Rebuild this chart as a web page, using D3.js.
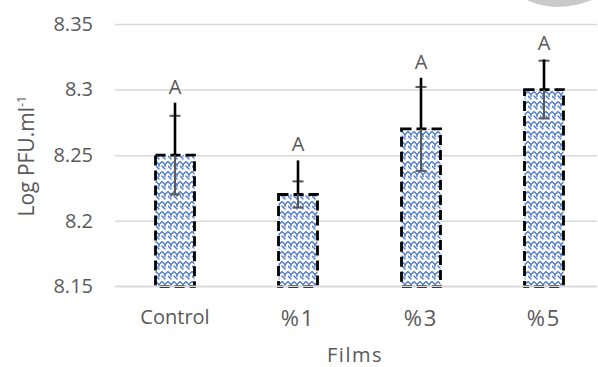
<!DOCTYPE html>
<html><head><meta charset="utf-8">
<script src="https://cdn.jsdelivr.net/npm/d3@7"></script>
<style>html,body{margin:0;padding:0;background:#fff;}svg{display:block;}</style>
</head><body>
<script>
const categories = ["Control", "%1", "%3", "%5"];
const means = [8.25, 8.22, 8.27, 8.30];
const sdErr = [0.03, 0.01, 0.032, 0.022];
const upperErr = [8.29, 8.246, 8.309, 8.323];
const letters = ["A", "A", "A", "A"];
const yTicks = [8.15, 8.2, 8.25, 8.3, 8.35];

const W = 598, H = 367;
const font = "'Open Sans', sans-serif";
const svg = d3.select("body").append("svg").attr("width", W).attr("height", H);

const defs = svg.append("defs");
const pat = defs.append("pattern").attr("id", "weave").attr("patternUnits", "userSpaceOnUse")
  .attr("width", 12).attr("height", 10);
pat.append("rect").attr("width", 12).attr("height", 10).attr("fill", "#fff");
const pStyle = p => p.attr("fill", "none").attr("stroke", "#4a78cc").attr("stroke-width", 1.4)
  .attr("stroke-dasharray", "2,0.9").attr("stroke-linecap", "round");
pStyle(pat.append("path").attr("d", "M0,1.5 L3,4.5 L6,1.5 L9,4.5 L12,1.5"));
pStyle(pat.append("path").attr("d", "M0,6 L3,9 M6,6 L9,9 M3,4.5 L3,7 M9,4.5 L9,7"));

const y = d3.scaleLinear().domain([8.15, 8.35]).range([286.3, 24]);
const x = d3.scaleBand().domain(categories).range([113.5, 605.5]).paddingInner(0.683).paddingOuter(0.3415);

// faint watermark swoosh
svg.append("path").attr("d", "M527,0 Q556,14 592,0 Z").attr("fill", "#bdbdbd").attr("opacity", 0.8);

// gridlines + tick labels
const yAxis = d3.axisLeft(y).tickValues(yTicks).tickSize(-(597 - 115)).tickPadding(22).tickFormat(d => String(d));
const gy = svg.append("g").attr("transform", "translate(115,0)").call(yAxis);
gy.select(".domain").remove();
gy.selectAll(".tick line").attr("stroke", "#d9d9d9").attr("stroke-width", 1.5);
gy.selectAll(".tick text").attr("fill", "#595959").style("font-family", font).style("font-size", "20px");

// bars
const bars = svg.append("g");
categories.forEach((c, i) => {
  bars.append("rect")
    .attr("x", x(c)).attr("y", y(means[i]))
    .attr("width", x.bandwidth()).attr("height", y(8.15) - y(means[i]))
    .attr("fill", "url(#weave)")
    .attr("stroke", "#000").attr("stroke-width", 2.8).attr("stroke-dasharray", "10,5");
});

// bottom axis line on top
svg.append("line").attr("x1", 115).attr("x2", 597).attr("y1", y(8.15)).attr("y2", y(8.15))
  .attr("stroke", "#d9d9d9").attr("stroke-width", 1.5);

// error bars
const eg = svg.append("g");
categories.forEach((c, i) => {
  const cx = x(c) + x.bandwidth() / 2;
  const lo = means[i] - sdErr[i], hi = means[i] + sdErr[i];
  eg.append("line").attr("x1", cx).attr("x2", cx).attr("y1", y(lo)).attr("y2", y(hi))
    .attr("stroke", "#595959").attr("stroke-width", 2);
  [lo, hi].forEach(v => {
    eg.append("line").attr("x1", cx - 5.5).attr("x2", cx + 5.5).attr("y1", y(v)).attr("y2", y(v))
      .attr("stroke", "#595959").attr("stroke-width", 2);
  });
  eg.append("line").attr("x1", cx).attr("x2", cx).attr("y1", y(means[i])).attr("y2", y(upperErr[i]))
    .attr("stroke", "#000").attr("stroke-width", 2.6);
  eg.append("text").attr("x", cx).attr("y", y(upperErr[i]) - 16).attr("dy", "0.35em")
    .attr("text-anchor", "middle").attr("fill", "#595959")
    .style("font-family", font).style("font-size", "20px").text(letters[i]);
});

// x axis labels
const xAxis = d3.axisBottom(x).tickSize(0).tickPadding(24);
const gx = svg.append("g").attr("transform", `translate(0,${y(8.15)})`).call(xAxis);
gx.select(".domain").remove();
gx.selectAll(".tick text").attr("fill", "#595959").style("font-family", font)
  .style("font-size", d => d.startsWith("%") ? "22px" : "20px")
  .style("letter-spacing", d => d.startsWith("%") ? "2px" : "0px");

// axis titles
svg.append("text").attr("x", 355).attr("y", 362).attr("text-anchor", "middle").attr("fill", "#595959")
  .style("font-family", font).style("font-size", "20px").style("letter-spacing", "1.5px").text("Films");

const yt = svg.append("text").attr("transform", "translate(34,156) rotate(-90)").attr("text-anchor", "middle")
  .attr("fill", "#595959").style("font-family", font).style("font-size", "21px");
yt.append("tspan").text("Log PFU.ml");
yt.append("tspan").attr("dy", "-8").style("font-size", "13px").text("-1");
</script>
</body></html>
